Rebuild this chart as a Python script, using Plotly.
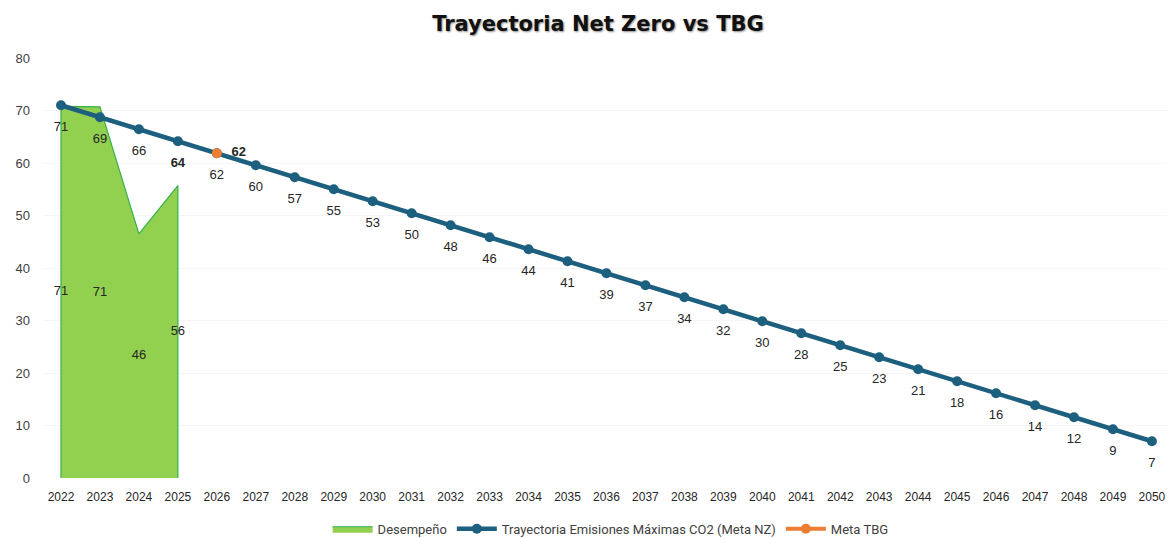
import plotly.graph_objects as go

years = list(range(2022, 2051))
trayectoria = [71.0, 68.71, 66.43, 64.14, 61.86, 59.57, 57.29, 55.0, 52.71, 50.43,
               48.14, 45.86, 43.57, 41.29, 39.0, 36.71, 34.43, 32.14, 29.86, 27.57,
               25.29, 23.0, 20.71, 18.43, 16.14, 13.86, 11.57, 9.29, 7.0]
desemp_years = [2022, 2023, 2024, 2025]
desempeno = [70.8, 70.7, 46.5, 55.7]
meta_year = [2026]
meta_tbg = [61.86]

LINE = "#1c5f7f"
FONT = "Liberation Sans"
TXT = "#262626"

fig = go.Figure()

poly_x = [desemp_years[0]] + desemp_years + [desemp_years[-1]]
poly_y = [0] + desempeno + [0]
fig.add_trace(go.Scatter(
    x=poly_x, y=poly_y, mode="lines", fill="toself",
    fillcolor="#92d050", line=dict(color="#35b04c", width=1.2),
    name="Desempeño", hoverinfo="skip"))
fig.add_trace(go.Scatter(
    x=desemp_years, y=[v / 2 for v in desempeno], mode="text",
    text=[f"{round(v)}" for v in desempeno], textposition="middle center",
    textfont=dict(family=FONT, size=13, color=TXT),
    showlegend=False, hoverinfo="skip"))

fig.add_trace(go.Scatter(
    x=years, y=trayectoria, mode="lines+markers",
    line=dict(color=LINE, width=4.5), marker=dict(color=LINE, size=10),
    name="Trayectoria Emisiones Máximas CO2 (Meta NZ)", hoverinfo="skip"))
labels = [f"<b>{round(v)}</b>" if y == 2025 else f"{round(v)}" for y, v in zip(years, trayectoria)]
fig.add_trace(go.Scatter(
    x=years, y=trayectoria, mode="markers+text", text=labels,
    marker=dict(size=24, opacity=0),
    textposition="bottom center",
    textfont=dict(family=FONT, size=13, color=TXT),
    showlegend=False, hoverinfo="skip"))

fig.add_trace(go.Scatter(
    x=meta_year, y=meta_tbg, mode="lines+markers",
    line=dict(color="#ed7d31", width=4), marker=dict(color="#ed7d31", size=10),
    name="Meta TBG", hoverinfo="skip"))
fig.add_trace(go.Scatter(
    x=meta_year, y=meta_tbg, mode="markers+text",
    marker=dict(size=22, opacity=0),
    text=[f"<b>{round(v)}</b>" for v in meta_tbg], textposition="middle right",
    textfont=dict(family=FONT, size=13, color=TXT),
    showlegend=False, hoverinfo="skip"))

W, H = 1159, 536
fig.update_layout(
    width=W, height=H,
    margin=dict(l=35, r=0, t=50, b=66),
    paper_bgcolor="white", plot_bgcolor="white",
    title=dict(text="<b>Trayectoria Net Zero vs TBG</b>", x=0.509, xanchor="center",
               y=1 - 16 / H, yanchor="middle",
               font=dict(family="DejaVu Sans", size=21, color="#111111",
                         shadow="1px 1px 2px rgba(0,0,0,0.45)")),
    xaxis=dict(range=[2021.538, 2050.387], tickmode="array", tickvals=years,
               ticktext=[str(y) for y in years], showgrid=False, zeroline=False,
               tickfont=dict(family=FONT, size=12, color=TXT), ticks="",
               ticklabelstandoff=10),
    yaxis=dict(range=[0, 80], tickvals=[0, 10, 20, 30, 40, 50, 60, 70, 80],
               showgrid=True, gridcolor="#f5f5f5", zeroline=False,
               tickfont=dict(family=FONT, size=13, color="#404040"), ticks="",
               ticklabelstandoff=12),
    legend=dict(orientation="h", x=0.505, xanchor="center", y=-0.121, yanchor="middle",
                font=dict(family="Roboto", size=13, color="#404040"),
                itemwidth=40, tracegroupgap=0),
    showlegend=True,
)

fig.write_html(
    "out.html",
    post_script="document.documentElement.style.overflow='hidden';"
                "document.body.style.overflow='hidden';",
)
